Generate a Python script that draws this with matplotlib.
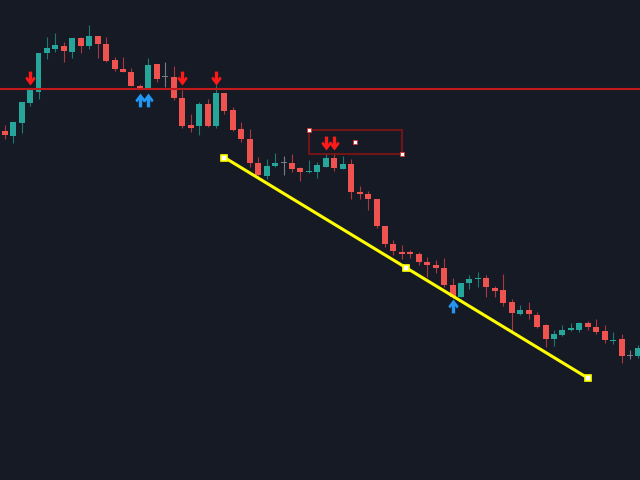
import numpy as np
import matplotlib
matplotlib.use("Agg")
import matplotlib.pyplot as plt
from matplotlib.path import Path
from matplotlib.patches import Rectangle

# candle data, one value per bar
opens = [369.3, 364.0, 376.7, 397.3, 408.3, 446.7, 451.3, 454.3, 448.3, 461.7,
         454.0, 464.0, 455.7, 440.0, 431.0, 428.3, 414.3, 411.7, 435.7, 422.7,
         422.7, 402.3, 375.0, 374.0, 395.7, 374.0, 407.3, 390.0, 370.7, 361.0,
         337.3, 324.0, 334.0, 337.3, 336.7, 332.3, 327.7, 328.0, 333.3, 342.3,
         331.3, 335.7, 308.3, 306.0, 300.7, 274.3, 255.7, 248.3, 248.0, 246.3,
         238.3, 235.0, 232.3, 215.3, 202.7, 216.7, 220.7, 221.7, 211.7, 210.0,
         197.7, 186.0, 190.0, 185.0, 175.0, 160.7, 165.0, 170.0, 170.0, 177.3,
         172.7, 169.3, 159.3, 160.7, 144.0, 144.0]
highs = [374.7, 378.3, 397.7, 410.0, 446.7, 463.3, 466.7, 458.3, 461.7, 462.7,
         475.0, 464.0, 462.7, 443.3, 443.3, 431.7, 416.0, 441.7, 435.7, 438.3,
         434.0, 410.0, 386.0, 398.3, 400.7, 415.0, 407.3, 393.3, 378.3, 370.7,
         342.7, 340.7, 346.7, 344.0, 346.0, 333.3, 340.0, 338.3, 347.3, 346.7,
         344.3, 340.7, 314.0, 309.3, 300.7, 274.3, 260.0, 255.0, 250.0, 248.3,
         242.7, 240.0, 241.7, 222.3, 217.3, 225.0, 227.7, 225.0, 214.0, 226.0,
         200.7, 195.0, 197.7, 188.3, 176.0, 170.0, 174.7, 177.3, 178.3, 179.0,
         180.7, 175.0, 167.7, 166.0, 150.0, 155.0]
lows = [360.7, 356.7, 366.7, 394.0, 400.7, 440.7, 447.7, 437.7, 442.3, 446.7,
        450.7, 441.7, 438.3, 429.0, 427.7, 414.0, 411.3, 411.7, 418.3, 413.3,
        400.0, 372.3, 368.3, 365.0, 373.3, 371.7, 386.0, 369.3, 358.3, 332.7,
        323.3, 320.7, 332.7, 325.0, 328.3, 319.3, 326.7, 321.7, 332.7, 329.3,
        330.7, 300.7, 300.7, 290.0, 271.7, 252.7, 245.0, 240.7, 241.7, 235.0,
        222.7, 226.7, 213.3, 201.7, 202.7, 210.7, 213.3, 202.7, 202.7, 194.0,
        169.3, 185.0, 181.0, 171.7, 153.3, 154.0, 164.0, 169.0, 168.3, 170.0,
        166.0, 156.7, 156.0, 137.3, 140.7, 142.0]
closes = [364.7, 378.3, 397.7, 410.0, 446.7, 451.7, 455.0, 449.3, 461.7, 454.0,
          464.3, 455.7, 439.0, 430.7, 427.7, 414.0, 411.3, 435.0, 421.3, 422.7,
          401.7, 374.3, 372.3, 395.7, 374.0, 406.7, 389.0, 370.0, 360.7, 336.7,
          325.0, 334.0, 336.7, 337.3, 331.3, 327.7, 329.3, 334.7, 342.3, 331.7,
          335.7, 307.7, 306.3, 300.7, 274.3, 256.0, 249.0, 246.3, 246.0, 238.0,
          234.7, 231.7, 214.7, 203.3, 217.3, 221.3, 222.3, 212.7, 209.3, 197.3,
          186.7, 190.0, 185.7, 173.3, 160.7, 166.0, 170.0, 172.3, 176.7, 172.7,
          168.3, 160.0, 160.3, 144.0, 144.0, 151.7]

# signals
sell_idx = [3, 21, 25, 38, 39]
sell_price = [415.0, 415.0, 415.0, 350.0, 350.0]
buy_idx = [16, 17, 53]
buy_price = [407.3, 407.3, 201.0]

# drawings
level_price = 411.3
trend_idx = [26, 47.5, 69]
trend_price = [342.5, 232.25, 122.0]
box_idx = [36, 47]
box_price = [345.7, 370.0]

BG = "#161a25"
UP = "#26a69a"
DOWN = "#ef5350"
UP_WICK = "#1d7a70"
DOWN_WICK = "#a8393e"
DOJI = "#787b86"

o = np.array(opens)
c = np.array(closes)
h = np.array(highs)
l = np.array(lows)
x = np.arange(len(o))

fig = plt.figure(figsize=(6.4, 4.8), dpi=100, facecolor=BG)
ax = fig.add_axes([0, 0, 1, 1])
ax.set_facecolor(BG)
ax.axis("off")

body_col = np.where(c > o, UP, np.where(c < o, DOWN, DOJI))
wick_col = np.where(c > o, UP_WICK, np.where(c < o, DOWN_WICK, DOJI))

ax.vlines(x, l, h, colors=wick_col, linewidth=0.8, zorder=2)
bottom = np.minimum(o, c)
height = np.maximum(np.abs(c - o), 1.0)
ax.bar(x, height, bottom=bottom, width=0.71, color=body_col,
       linewidth=0, zorder=3)

# horizontal level
ax.axhline(level_price, color="#c01a1d", linewidth=1.5, zorder=4)

# rectangle
ax.add_patch(Rectangle((box_idx[0], box_price[0]), box_idx[1] - box_idx[0],
                       box_price[1] - box_price[0], fill=False,
                       edgecolor="#7d1414", linewidth=1.3, zorder=4))
ax.plot([box_idx[0], box_idx[1], np.mean(box_idx)],
        [box_price[1], box_price[0], np.mean(box_price)],
        linestyle="none", marker="s", markersize=2.6,
        markerfacecolor="white", markeredgecolor="#d03030",
        markeredgewidth=0.6, zorder=5)

# trend line
ax.plot(trend_idx, trend_price, color="#ffff00", linewidth=2.2, zorder=5)
ax.plot(trend_idx, trend_price, linestyle="none", marker="s", markersize=5,
        markerfacecolor="white", markeredgecolor="#ffff00",
        markeredgewidth=1.2, zorder=6)

# arrow markers, tip sits on the point
up_verts = [(0, 0), (0.74, -0.98), (0.5, -1.3), (0.24, -0.95), (0.24, -2),
            (-0.24, -2), (-0.24, -0.95), (-0.5, -1.3), (-0.74, -0.98), (0, 0)]
up_arrow = Path(up_verts, closed=True)
down_arrow = Path([(vx, -vy) for vx, vy in up_verts], closed=True)

ax.plot(sell_idx, sell_price, linestyle="none", marker=down_arrow,
        markersize=20, color="#ff1a1a", markeredgewidth=0, zorder=7)
ax.plot(buy_idx, buy_price, linestyle="none", marker=up_arrow,
        markersize=20, color="#2196f3", markeredgewidth=0, zorder=7)

ax.set_xlim(-0.556, 75.18)
ax.set_ylim(20, 500)

fig.savefig("out.png", dpi=100, facecolor=BG)
